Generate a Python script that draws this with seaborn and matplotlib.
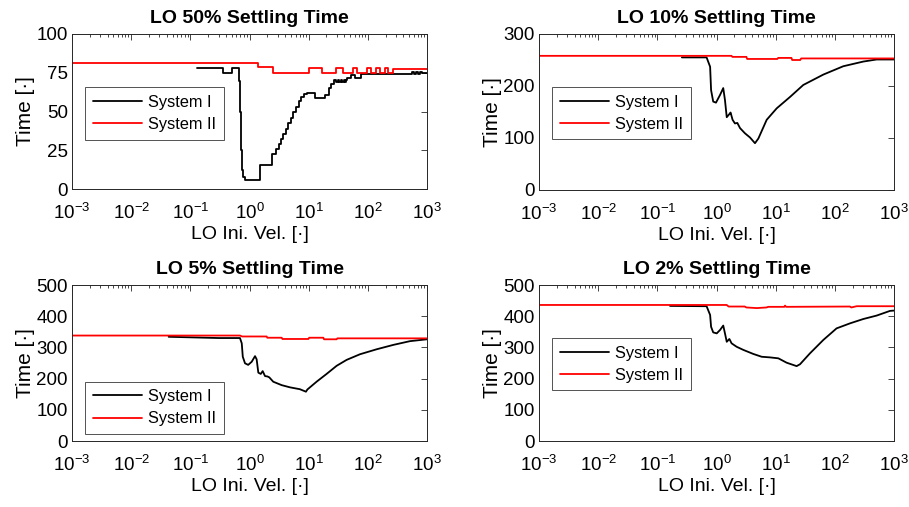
import numpy as np
import pandas as pd
import matplotlib
matplotlib.use("Agg")
import matplotlib.pyplot as plt
import seaborn as sns
from matplotlib.ticker import LogLocator, NullFormatter, FixedLocator

sns.set_style("white")
plt.rcParams["font.family"] = ["Liberation Sans", "DejaVu Sans"]
plt.rcParams["mathtext.fontset"] = "custom"
plt.rcParams["mathtext.rm"] = "Liberation Sans"
plt.rcParams["mathtext.it"] = "Liberation Sans:italic"
plt.rcParams["mathtext.bf"] = "Liberation Sans:bold"
for key in ["text.color", "axes.labelcolor", "xtick.labelcolor", "ytick.labelcolor"]:
    plt.rcParams[key] = "black"

series_names = ["System I", "System II"]
titles = ["LO 50% Settling Time", "LO 10% Settling Time",
          "LO 5% Settling Time", "LO 2% Settling Time"]
y_limits = [100, 300, 500, 500]
y_ticks = [[0, 25, 50, 75, 100], [0, 100, 200, 300],
           [0, 100, 200, 300, 400, 500], [0, 100, 200, 300, 400, 500]]
x_ticks = [1e-3, 1e-2, 1e-1, 1e0, 1e1, 1e2, 1e3]
x_tick_labels = [r"$10^{-3}$", r"$10^{-2}$", r"$10^{-1}$", r"$10^{0}$",
                 r"$10^{1}$", r"$10^{2}$", r"$10^{3}$"]

# --- 50% settling time (piecewise constant, drawn as steps) ---
s50_sys1_x = [0.13, 0.36, 0.5, 0.67, 0.70, 0.72, 0.75, 0.79, 0.83, 1.5,
              2.42, 2.8, 3.1, 3.4, 3.75, 4.1, 4.5, 5.0, 5.5, 6.1, 6.8, 7.5,
              8.4, 9.2, 12.7, 18.6, 22, 24, 26.5, 29, 31, 33, 35, 37, 39,
              41, 43, 45, 52, 60, 78, 550, 600, 650, 700, 750, 810, 1000]
s50_sys1_y = [78, 75, 78, 70, 50, 25, 12, 8, 5.5, 15.5,
              22.4, 25.5, 29, 32, 35.5, 39, 42.5, 46, 49.5, 53, 56.5, 59.5,
              61, 62, 58.5, 60.5, 65, 68, 70.5, 69, 70.5, 69, 70.5, 69, 70.5,
              69, 70.5, 71.4, 73.5, 71.4, 74.2, 75.7, 74.5, 75.7, 74.5, 75.7,
              75, 75]
s50_sys2_x = [1e-3, 1.4, 2.5, 10.3, 17, 29.5, 38, 57, 66, 96, 115, 140,
              163, 195, 220, 270, 1000]
s50_sys2_y = [81.5, 78.5, 75, 78, 75, 78, 75, 78, 75, 78, 75, 78, 75, 78,
              75, 77.5, 77.5]

# --- 10% settling time ---
s10_sys1_x = [0.26, 0.68, 0.78, 0.81, 0.88, 0.98, 1.15, 1.30, 1.39, 1.49,
              1.65, 1.73, 1.87, 2.05, 2.25, 2.5, 3.03, 3.68, 4.47, 5.1,
              7.05, 10.4, 17.5, 29.3, 64, 139, 303, 509, 1000]
s10_sys1_y = [255, 255, 237, 192, 170, 168, 183, 196, 173, 140,
              146, 149, 135, 128, 129, 119, 109, 101, 90, 99,
              135, 157, 179, 202, 222, 238, 247, 251, 251]
s10_sys2_x = [1e-3, 1.8, 1.85, 3.2, 3.3, 10.7, 11, 18.5, 19, 26, 27, 1000]
s10_sys2_y = [258, 258, 256, 256, 252, 252, 254, 254, 250, 250, 253, 253]

# --- 5% settling time ---
s5_sys1_x = [0.043, 0.3, 0.69, 0.74, 0.77, 0.84, 0.95, 1.09, 1.24, 1.32,
             1.41, 1.55, 1.67, 1.83, 2.0, 2.16, 2.52, 3.5, 4.83, 7.1, 9.0,
             9.5, 13.6, 20.1, 29.7, 43.8, 73.6, 141, 269, 515, 1000]
s5_sys1_y = [334, 330, 330, 313, 270, 249, 244, 254, 272, 262,
             219, 215, 224, 208, 207, 204, 190, 179, 172, 166, 158,
             165, 190, 215, 241, 260, 278, 294, 308, 320, 326]
s5_sys2_x = [1e-3, 0.69, 0.75, 1.95, 2.0, 3.5, 3.6, 9.9, 10.2, 17.7, 18.2,
             29.7, 30.5, 1000]
s5_sys2_y = [338, 338, 335, 335, 331, 331, 327, 327, 331, 331, 326, 326,
             329, 329]

# --- 2% settling time ---
s2_sys1_x = [0.164, 0.68, 0.78, 0.81, 0.88, 1.01, 1.15, 1.30, 1.39, 1.49,
             1.65, 1.80, 2.19, 2.84, 4.19, 5.8, 8.0, 11.1, 15.3, 22.6, 25.8,
             38, 64, 107, 180, 303, 509, 855, 1000]
s2_sys1_y = [433, 432, 404, 366, 348, 345, 356, 370, 345, 318,
             327, 313, 302, 292, 279, 270, 268, 265, 251, 240, 246,
             281, 324, 361, 377, 391, 402, 417, 418]
s2_sys2_x = [1e-3, 1.49, 1.6, 3.0, 3.2, 4.8, 7.0, 7.5, 14.0, 14.4, 15.0,
             180, 190, 234, 1000]
s2_sys2_y = [436, 436, 431, 431, 428, 426, 428, 430, 430, 434, 430,
             431, 428, 432, 432]

panels = [
    (s50_sys1_x, s50_sys1_y, s50_sys2_x, s50_sys2_y, "steps-post"),
    (s10_sys1_x, s10_sys1_y, s10_sys2_x, s10_sys2_y, "default"),
    (s5_sys1_x, s5_sys1_y, s5_sys2_x, s5_sys2_y, "default"),
    (s2_sys1_x, s2_sys1_y, s2_sys2_x, s2_sys2_y, "default"),
]

fig = plt.figure(figsize=(9.09, 5.07), dpi=100)
W, H = 909, 507
boxes = [(72, 34, 427, 189), (539, 34, 894, 190),
         (72, 285, 427, 441), (539, 285, 894, 441)]
legend_tops = [0.655, 0.658, 0.38, 0.658]
axis_color = "#262626"

for i, ((x1, y1, x2, y2, style), (l, t, r, b)) in enumerate(zip(panels, boxes)):
    ax = fig.add_axes([l / W, 1 - b / H, (r - l) / W, (b - t) / H])
    df = pd.DataFrame({
        "vel": list(x1) + list(x2),
        "time": list(y1) + list(y2),
        "system": [series_names[0]] * len(x1) + [series_names[1]] * len(x2),
    })
    sns.lineplot(data=df, x="vel", y="time", hue="system",
                 palette={"System I": "black", "System II": "#ff0000"},
                 estimator=None, sort=False, drawstyle=style,
                 linewidth=1.3, ax=ax)
    ax.set_xscale("log")
    ax.set_xlim(1e-3, 1e3)
    ax.set_ylim(0, y_limits[i])
    ax.xaxis.set_major_locator(FixedLocator(x_ticks))
    ax.set_xticklabels(x_tick_labels)
    ax.xaxis.set_minor_locator(LogLocator(base=10, subs=np.arange(2, 10), numticks=20))
    ax.xaxis.set_minor_formatter(NullFormatter())
    ax.set_yticks(y_ticks[i])
    ax.tick_params(which="both", direction="in", top=True, right=True,
                   color=axis_color, width=0.6)
    ax.tick_params(which="major", length=4, labelsize=13.5)
    ax.tick_params(axis="x", which="major", pad=10)
    ax.tick_params(axis="y", which="major", pad=3)
    ax.tick_params(which="minor", length=2.2)
    for sp in ax.spines.values():
        sp.set_color(axis_color)
        sp.set_linewidth(0.7)
    ax.set_title(titles[i], fontsize=14, fontweight="bold", pad=8)
    ax.set_xlabel("LO Ini. Vel. [\u00b7]", fontsize=14, labelpad=2)
    ax.set_ylabel("Time [\u00b7]", fontsize=15, labelpad=1)
    leg = ax.legend(loc="upper left", bbox_to_anchor=(0.037, legend_tops[i]),
                    fontsize=11.8, frameon=True, fancybox=False,
                    handlelength=3.05, handletextpad=0.35,
                    borderpad=0.45, labelspacing=0.45, borderaxespad=0)
    leg.get_frame().set_edgecolor(axis_color)
    leg.get_frame().set_linewidth(0.7)

fig.savefig("out.png", dpi=100)
